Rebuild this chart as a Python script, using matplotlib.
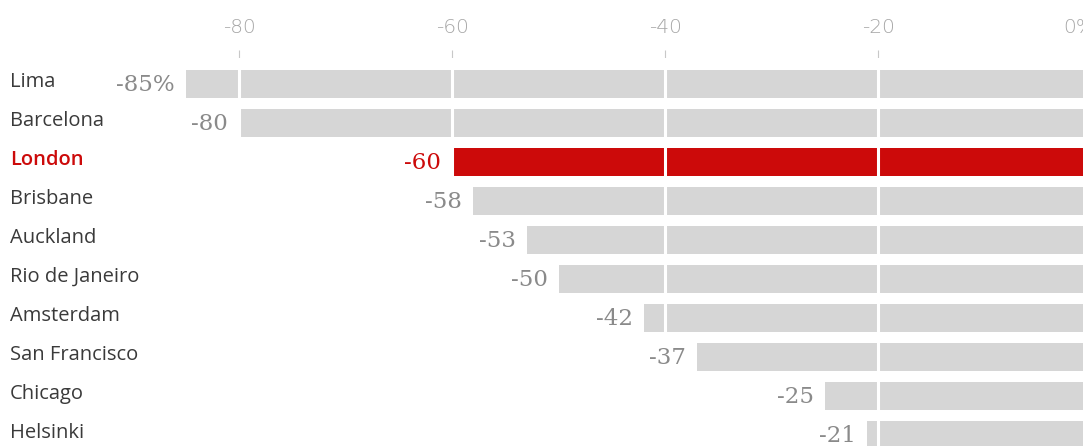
import matplotlib
matplotlib.use("Agg")
import matplotlib.pyplot as plt
import matplotlib.transforms as mtransforms

# change in values (%)
cities = ["Lima", "Barcelona", "London", "Brisbane", "Auckland",
          "Rio de Janeiro", "Amsterdam", "San Francisco", "Chicago", "Helsinki"]
changes = [-85, -80, -60, -58, -53, -50, -42, -37, -25, -21]
highlight = "London"

tick_values = [-80, -60, -40, -20, 0]
tick_labels = ["-80", "-60", "-40", "-20", "0%"]

GREY = "#d6d6d6"
RED = "#cc0a0a"

W, H = 1083, 446
fig = plt.figure(figsize=(W / 100, H / 100), dpi=100)

# axes goes a little past the right edge, like the original crop
left_px, right_px = 186, 1091
top_px, bottom_px = 58, 446
ax = fig.add_axes([left_px / W, 1 - bottom_px / H,
                   (right_px - left_px) / W, (bottom_px - top_px) / H])

row_gap = 39.0
y_top = -(84 - top_px) / row_gap
y_bottom = len(cities) - 1 + (bottom_px - (84 + row_gap * (len(cities) - 1))) / row_gap
ax.set_xlim(-85, 0)
ax.set_ylim(y_bottom, y_top)

ypos = list(range(len(cities)))
colors = [RED if c == highlight else GREY for c in cities]
ax.barh(ypos, changes, height=0.72, color=colors, zorder=1)

for x in tick_values[:-1]:
    ax.axvline(x, color="white", lw=2.2, zorder=2)

ax.xaxis.tick_top()
ax.set_xticks(tick_values)
ax.set_xticklabels(tick_labels)
ax.tick_params(axis="x", length=6, width=0.8, color="#c8c8c8", pad=9,
               labelsize=14.5, labelcolor="#a6a6a6")
for lab in ax.get_xticklabels():
    lab.set_fontfamily("DejaVu Sans")
    lab.set_fontweight("light")
# the 0% label sits a bit left of its tick in the original
last = ax.get_xticklabels()[-1]
last.set_transform(last.get_transform() +
                   mtransforms.ScaledTranslation(-12 / 100, 0, fig.dpi_scale_trans))
ax.set_yticks([])
for s in ax.spines.values():
    s.set_visible(False)

trans = mtransforms.blended_transform_factory(fig.transFigure, ax.transData)
for i, (city, val) in enumerate(zip(cities, changes)):
    is_hl = city == highlight
    ax.text(10 / W, i - 0.05, city, transform=trans, ha="left", va="center",
            fontsize=14.5, family="Open Sans",
            color=RED if is_hl else "#3a3a3a",
            fontweight="semibold" if is_hl else "normal")
    label = f"{val}%" if i == 0 else f"{val}"
    ax.annotate(label, (val, i), xytext=(-8, -1), textcoords="offset points",
                ha="right", va="center", fontsize=16.5, family="DejaVu Serif",
                color=RED if is_hl else "#8a8a8a", clip_on=False)

fig.savefig("out.png", dpi=100)
